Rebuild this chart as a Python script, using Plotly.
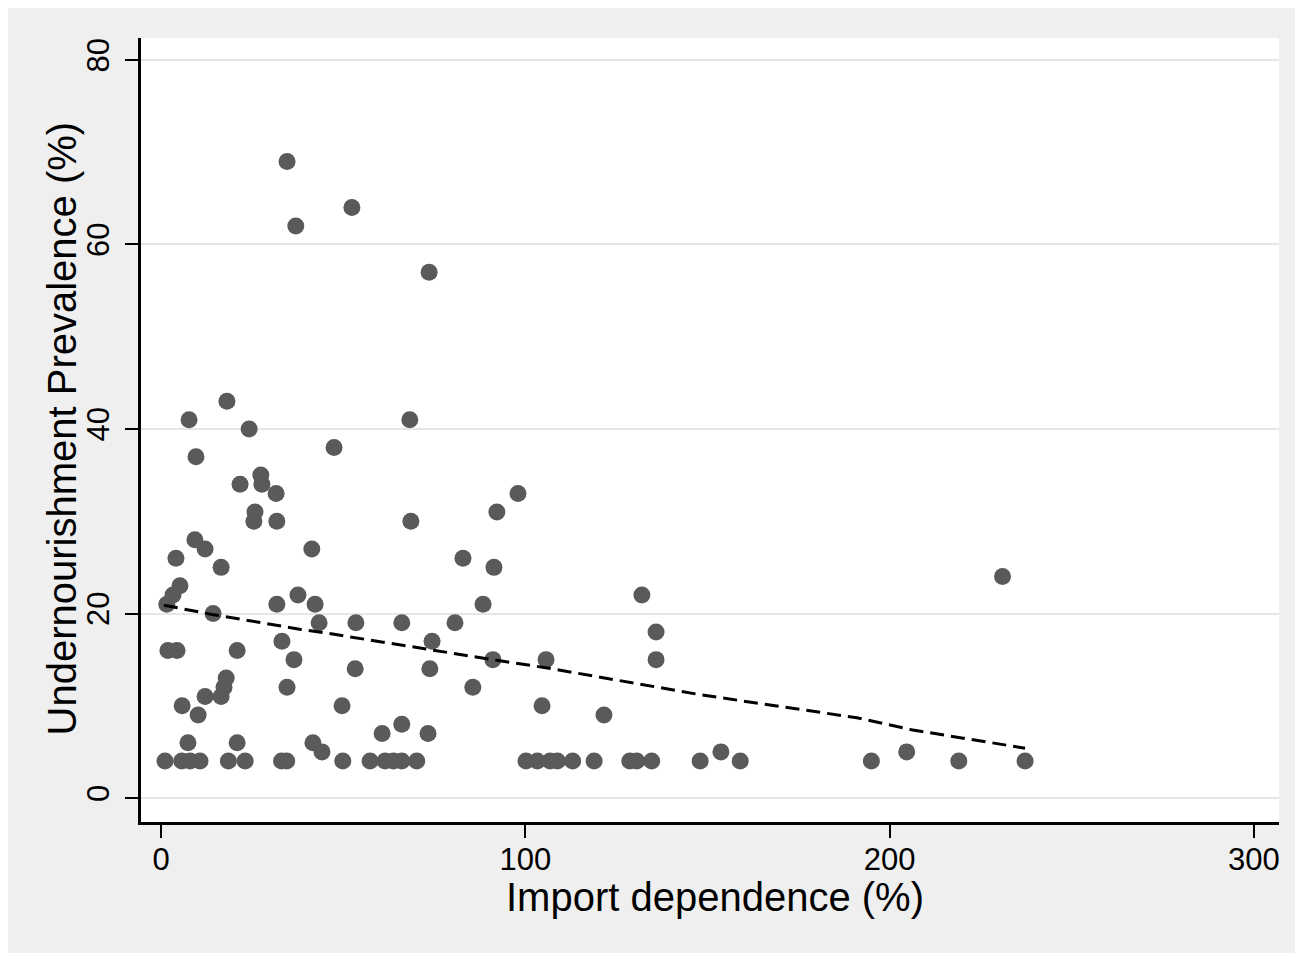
import plotly.graph_objects as go

# Scatter data: import dependence (%) vs undernourishment prevalence (%)
import_dep = [
    1.1, 5.7, 8.0, 10.7, 18.5, 23.1, 33.1, 34.5, 49.9, 57.4, 61.5, 63.8, 66.1, 70.2,
    100.2, 103.3, 106.8, 108.8, 113.0, 118.9, 128.7, 130.6, 134.7, 148.0, 159.0,
    195.0, 219.0, 237.2,
    153.7, 204.7, 44.2,
    1.6, 3.3, 5.2, 4.1, 1.9, 4.4, 5.8, 7.4, 7.7, 9.6, 9.3, 12.1, 10.2, 12.1,
    14.3, 16.5, 16.5, 17.3, 17.9, 18.1, 20.9, 20.9, 21.7, 24.2, 25.5, 25.8, 27.4,
    27.7, 31.6, 31.8, 31.8, 33.2, 34.6, 36.5, 37.6, 34.6, 37.0, 41.4, 42.3, 43.4,
    41.7, 47.5, 49.7, 52.4, 53.5, 53.3, 60.7, 66.1, 66.1, 68.3, 68.6, 73.6, 73.3,
    74.4, 73.8, 80.7, 82.9, 85.6, 88.4, 91.4, 91.1, 92.2, 98.0, 104.6, 105.7,
    121.6, 132.0, 135.9, 135.9, 231.0,
]
undernourish = [
    4, 4, 4, 4, 4, 4, 4, 4, 4, 4, 4, 4, 4, 4,
    4, 4, 4, 4, 4, 4, 4, 4, 4, 4, 4,
    4, 4, 4,
    5, 5, 5,
    21, 22, 23, 26, 16, 16, 10, 6, 41, 37, 28, 27, 9, 11,
    20, 25, 11, 12, 13, 43, 16, 6, 34, 40, 30, 31, 35,
    34, 33, 30, 21, 17, 12, 15, 22, 69, 62, 27, 21, 19,
    6, 38, 10, 64, 19, 14, 7, 8, 19, 41, 30, 57, 7,
    17, 14, 19, 26, 12, 21, 25, 15, 31, 33, 10, 15,
    9, 22, 18, 15, 24,
]

# Fitted (dashed) line
fit_x = [0.8, 14.0, 38.0, 45.0, 91.0, 106.0, 148.0, 191.0, 206.0, 237.2]
fit_y = [20.9, 19.9, 18.3, 17.9, 15.0, 14.1, 11.2, 8.7, 7.4, 5.4]

x_ticks = [0, 100, 200, 300]
y_ticks = [0, 20, 40, 60, 80]
x_title = "Import dependence (%)"
y_title = "Undernourishment Prevalence (%)"

fig = go.Figure()
fig.add_trace(go.Scatter(
    x=import_dep, y=undernourish, mode="markers",
    marker=dict(size=17, color="#5a5a5a", line=dict(width=0)),
    showlegend=False, hoverinfo="x+y",
))
fig.add_trace(go.Scatter(
    x=fit_x, y=fit_y, mode="lines",
    line=dict(color="black", width=3, dash="14px,7px"),
    showlegend=False,
))

font_family = "Liberation Sans, Arial, Helvetica, sans-serif"

fig.update_layout(
    width=1295, height=945,
    margin=dict(l=133, r=24, t=30, b=131),
    paper_bgcolor="#efefef",
    plot_bgcolor="white",
    font=dict(family=font_family, color="black", size=31),
    xaxis=dict(
        range=[-5.49, 306.9], tickvals=x_ticks, ticktext=[str(v) for v in x_ticks],
        showgrid=False, zeroline=False,
        showline=True, linecolor="black", linewidth=2.5,
        ticks="outside", ticklen=13, tickwidth=2, tickcolor="black",
        tickfont=dict(size=31), ticklabelstandoff=-5,
    ),
    yaxis=dict(
        range=[-2.6, 82.38], tickvals=y_ticks, ticktext=[str(v) for v in y_ticks],
        showgrid=True, gridcolor="#e6e6e6", gridwidth=2, zeroline=False,
        showline=True, linecolor="black", linewidth=2.5,
        ticks="outside", ticklen=13, tickwidth=2, tickcolor="black",
        tickfont=dict(size=31), tickangle=-90, ticklabelstandoff=4,
    ),
    annotations=[
        dict(text=x_title, xref="paper", yref="paper", x=0.5044, y=-0.0960,
             xanchor="center", yanchor="middle", showarrow=False,
             font=dict(size=40, family=font_family, color="black")),
        dict(text=y_title, xref="paper", yref="paper", x=-0.0694, y=0.502,
             xanchor="center", yanchor="middle", showarrow=False, textangle=-90,
             font=dict(size=40, family=font_family, color="black")),
    ],
)

fig.write_html("out.html")
